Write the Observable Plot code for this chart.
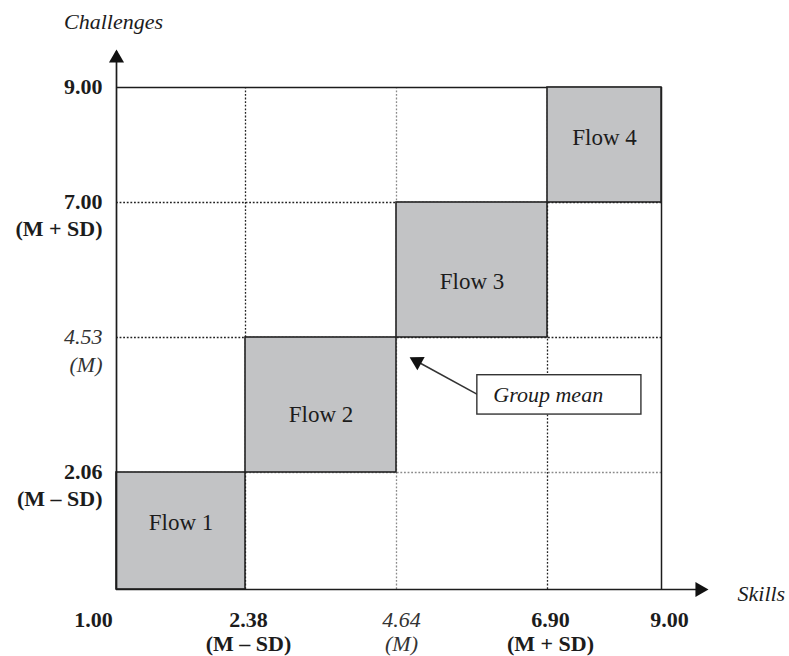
<!DOCTYPE html>
<html>
<head>
<meta charset="utf-8">
<script src="https://cdn.jsdelivr.net/npm/d3@7"></script>
<script src="https://cdn.jsdelivr.net/npm/@observablehq/plot@0.6"></script>
<style>
  html, body { margin: 0; padding: 0; background: #fff; }
</style>
</head>
<body>
<div id="chart"></div>
<script>
// ---- data (values in data units) ----
const xTicks = [1, 2.38, 4.64, 6.90, 9];
const xTickLabels = ["1.00", "2.38", "4.64", "6.90", "9.00"];
const xTickNotes = ["", "(M – SD)", "(M)", "(M + SD)", ""];

const yTicks = [1, 2.06, 4.53, 7.00, 9];
const yTickLabels = ["", "2.06", "4.53", "7.00", "9.00"];
const yTickNotes = ["", "(M – SD)", "(M)", "(M + SD)", ""];

const flowNames = ["Flow 1", "Flow 2", "Flow 3", "Flow 4"];
const skillLow = [1, 2.38, 4.64, 6.90];
const skillHigh = [2.38, 4.64, 6.90, 9];
const challengeLow = [1, 2.06, 4.53, 7.00];
const challengeHigh = [2.06, 4.53, 7.00, 9];
const flowLabelY = [1.61, 3.12, 5.55, 8.12];

const xTitle = "Skills";
const yTitle = "Challenges";
const noteText = "Group mean";
const noteBox = {x1: 5.85, x2: 8.63, y1: 3.12, y2: 3.84};
const pointerTail = {x: 5.85, y: 3.49};
const pointerHead = {x: 4.95, y: 4.09};
const axisEnd = {x: 9.70, y: 9.62};
const axisHead = {x: 9.705, y: 9.51};

// ---- schematic layout: relative width of each column / height of each row ----
const columnWidths = [129, 151, 151, 114];
const rowHeights = [117, 135, 135, 115];

const cumulate = a => a.reduce((acc, w) => (acc.push(acc[acc.length - 1] + w), acc), [0]);
const xWarp = d3.scaleLinear().domain(xTicks).range(cumulate(columnWidths));
const yWarp = d3.scaleLinear().domain(yTicks).range(cumulate(rowHeights));

// ---- tables built from the arrays ----
const flows = flowNames.map((name, i) => ({
  name, x1: skillLow[i], x2: skillHigh[i], y1: challengeLow[i], y2: challengeHigh[i],
  lx: (skillLow[i] + skillHigh[i]) / 2, ly: flowLabelY[i]
}));
const xLab = xTicks.map((v, i) => ({v, label: xTickLabels[i], note: xTickNotes[i], mean: xTickNotes[i] === "(M)", i}));
const yLab = yTicks.map((v, i) => ({v, label: yTickLabels[i], note: yTickNotes[i], mean: yTickNotes[i] === "(M)", i}));

const xMin = xTicks[0], xMax = xTicks[xTicks.length - 1];
const yMin = yTicks[0], yMax = yTicks[yTicks.length - 1];
const interiorX = xTicks.slice(1, -1);
const interiorY = yTicks.slice(1, -1);

const ink = "#1c1c1c";
const serif = "Liberation Serif, Times New Roman, serif";
const tickFont = 22;

function xLabelMarks(filter, dx) {
  const sel = xLab.filter(filter);
  return [
    Plot.text(sel.filter(d => !d.mean), {x: "v", y: () => yMin, text: "label", dy: 37, dx, lineAnchor: "bottom", fontSize: tickFont, fontWeight: "bold", fill: ink}),
    Plot.text(sel.filter(d => d.mean), {x: "v", y: () => yMin, text: "label", dy: 37, dx: dx + 2, lineAnchor: "bottom", fontSize: tickFont, fontStyle: "italic", fill: "#333"}),
    Plot.text(sel.filter(d => d.note && !d.mean), {x: "v", y: () => yMin, text: "note", dy: 61, dx, lineAnchor: "bottom", fontSize: tickFont, fontWeight: "bold", fill: ink}),
    Plot.text(sel.filter(d => d.note && d.mean), {x: "v", y: () => yMin, text: "note", dy: 61, dx: dx + 2, lineAnchor: "bottom", fontSize: tickFont, fontStyle: "italic", fill: "#333"})
  ];
}

const dotted = {strokeWidth: 1.3, strokeDasharray: "1.8,1.8"};

const chart = Plot.plot({
  width: 789,
  height: 656,
  marginLeft: 116,
  marginRight: 128,
  marginTop: 87,
  marginBottom: 67,
  x: {transform: xWarp, domain: [0, d3.sum(columnWidths)], axis: null},
  y: {transform: yWarp, domain: [0, d3.sum(rowHeights)], axis: null},
  style: {fontFamily: serif, background: "#fff", color: ink, overflow: "visible"},
  marks: [
    // dotted grid
    Plot.ruleY(interiorY.filter(v => v !== 2.06), {x1: xMin, x2: xMax, stroke: "#222", ...dotted}),
    Plot.ruleY(interiorY.filter(v => v === 2.06), {x1: xMin, x2: xMax, stroke: "#8a8a8a", ...dotted}),
    Plot.ruleX(interiorX.filter(v => v !== 4.64), {y1: yMin, y2: yMax, stroke: "#222", ...dotted}),
    Plot.ruleX(interiorX.filter(v => v === 4.64), {y1: yMin, y2: yMax, stroke: "#8a8a8a", ...dotted}),
    // frame top & right
    Plot.ruleY([yMax], {x1: xMin, x2: xMax, stroke: ink, strokeWidth: 1.5}),
    Plot.ruleX([xMax], {y1: yMin, y2: yMax, stroke: ink, strokeWidth: 1.5}),
    // flow boxes
    Plot.rect(flows, {x1: "x1", x2: "x2", y1: "y1", y2: "y2", fill: "#c2c3c5", stroke: "#222", strokeWidth: 1.6}),
    Plot.text(flows, {x: "lx", y: "ly", text: "name", fontSize: 23, fill: ink, lineAnchor: "middle"}),
    // axes with arrows
    Plot.ruleX([xMin], {y1: yMin, y2: axisEnd.y, stroke: ink, strokeWidth: 1.7}),
    Plot.ruleY([yMin], {x1: xMin, x2: axisEnd.x, stroke: ink, strokeWidth: 1.7}),
    Plot.dot([axisHead], {x: () => xMin, y: "y", symbol: "triangle", r: 5.6, fill: "#111", stroke: "none"}),
    Plot.dot([axisHead], {x: "x", y: () => yMin, symbol: "triangle", r: 5.6, fill: "#111", stroke: "none", rotate: 90}),
    // axis titles
    Plot.text([yTitle], {x: () => xMin, y: () => yMax, text: d => d, dy: -59, dx: -3, lineAnchor: "bottom", fontSize: 22, fontStyle: "italic", fill: ink}),
    Plot.text([xTitle], {x: () => xMax, y: () => yMin, text: d => d, dx: 76, dy: 11, textAnchor: "start", lineAnchor: "bottom", fontSize: 22, fontStyle: "italic", fill: ink}),
    // y tick labels
    Plot.text(yLab.filter(d => d.label && !d.mean), {x: () => xMin, y: "v", text: "label", dx: -14, dy: 6, textAnchor: "end", lineAnchor: "bottom", fontSize: tickFont, fontWeight: "bold", fill: ink}),
    Plot.text(yLab.filter(d => d.label && d.mean), {x: () => xMin, y: "v", text: "label", dx: -14, dy: 6, textAnchor: "end", lineAnchor: "bottom", fontSize: tickFont, fontStyle: "italic", fill: "#333"}),
    Plot.text(yLab.filter(d => d.note && !d.mean), {x: () => xMin, y: "v", text: "note", dx: -14, dy: 33, textAnchor: "end", lineAnchor: "bottom", fontSize: tickFont, fontWeight: "bold", fill: ink}),
    Plot.text(yLab.filter(d => d.note && d.mean), {x: () => xMin, y: "v", text: "note", dx: -14, dy: 34, textAnchor: "end", lineAnchor: "bottom", fontSize: tickFont, fontStyle: "italic", fill: "#333"}),
    // x tick labels
    ...xLabelMarks(d => d.i === 0, -23),
    ...xLabelMarks(d => d.i > 0 && d.i < xTicks.length - 1, 3),
    ...xLabelMarks(d => d.i === xTicks.length - 1, 8),
    // group mean annotation
    Plot.link([pointerTail], {x1: "x", y1: "y", x2: () => pointerHead.x, y2: () => pointerHead.y, stroke: "#333", strokeWidth: 1.6}),
    Plot.dot([pointerHead], {x: "x", y: "y", symbol: "triangle", r: 5.6, fill: "#111", stroke: "none", rotate: -61}),
    Plot.rect([noteBox], {x1: "x1", x2: "x2", y1: "y1", y2: "y2", fill: "#fff", stroke: "#333", strokeWidth: 1.4}),
    Plot.text([noteText], {x: () => noteBox.x1, y: () => (noteBox.y1 + noteBox.y2) / 2, text: d => d, dx: 16, textAnchor: "start", lineAnchor: "middle", fontSize: 22, fontStyle: "italic", fill: ink})
  ]
});
document.getElementById("chart").appendChild(chart);
</script>
</body>
</html>
